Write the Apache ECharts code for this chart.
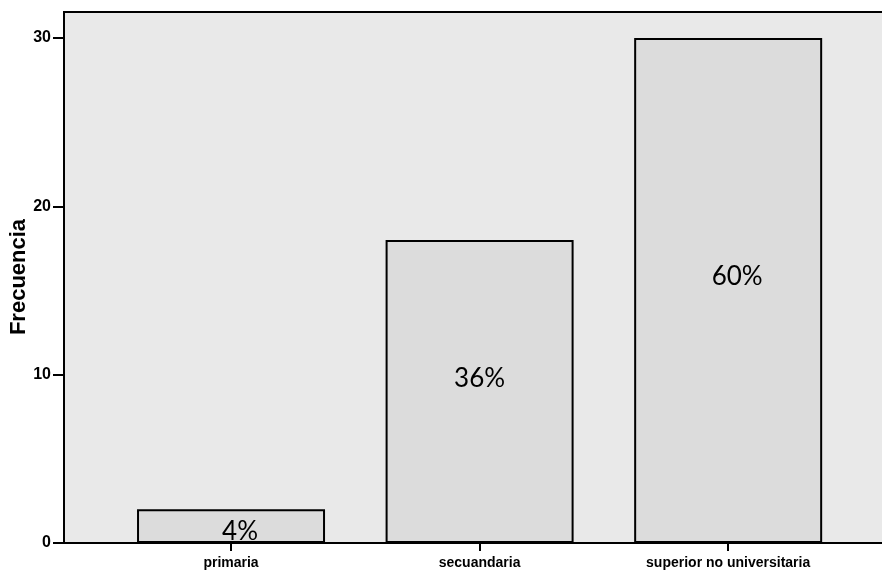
<!DOCTYPE html>
<html>
<head>
<meta charset="utf-8">
<script src="https://cdn.jsdelivr.net/npm/echarts@6/dist/echarts.min.js"></script>
<style>
  html, body { margin: 0; padding: 0; background: #ffffff; }
  #chart { width: 882px; height: 571px; }
</style>
</head>
<body>
<div id="chart"></div>
<script>
// Nivel de instrucción: frecuencias por categoría
const categories = ['primaria', 'secuandaria', 'superior no universitaria'];
const frecuencias = [2, 18, 30];
const yTicks = [0, 10, 20, 30];
const yTitle = 'Frecuencia';

const total = frecuencias.reduce((a, b) => a + b, 0);
const positions = categories.map((_, i) => i);
// hand-placed percentage labels (offset from the bar centre, in px)
const labelOffsets = [[9, 5], [0, -13], [9, -14]];

const chart = echarts.init(document.getElementById('chart'));

chart.setOption({
  animation: false,
  backgroundColor: '#ffffff',
  grid: {
    left: 64, right: -4, top: 12, bottom: 28,
    containLabel: false,
    outerBoundsMode: 'none',
    show: true,
    backgroundColor: '#e9e9e9',
    borderColor: '#000000',
    borderWidth: 2
  },
  // vertical axis title, centred on the plot height
  graphic: [{
    type: 'text',
    x: 19,
    y: 277,
    rotation: Math.PI / 2,
    style: {
      text: yTitle,
      fill: '#000',
      font: 'bold 22px "Liberation Sans"',
      align: 'center',
      verticalAlign: 'middle'
    }
  }],
  xAxis: {
    type: 'value',
    min: -0.672,
    max: 2.635,
    splitLine: { show: false },
    axisLine: { show: true, onZero: false, lineStyle: { color: '#000', width: 2 } },
    axisTick: {
      show: true, customValues: positions, length: 8,
      lineStyle: { color: '#000', width: 2 }
    },
    axisLabel: {
      customValues: positions,
      formatter: v => categories[Math.round(v)],
      color: '#000', fontFamily: 'Liberation Sans', fontWeight: 'bold',
      fontSize: 14, margin: 13
    }
  },
  yAxis: {
    type: 'value',
    min: 0,
    max: 31.55,
    interval: 10,
    splitLine: { show: false },
    axisLine: { show: true, onZero: false, lineStyle: { color: '#000', width: 2 } },
    axisTick: {
      show: true, customValues: yTicks, length: 11,
      lineStyle: { color: '#000', width: 2 }
    },
    axisLabel: {
      customValues: yTicks,
      color: '#000', fontFamily: 'Liberation Sans', fontWeight: 'bold',
      fontSize: 16, margin: 13
    }
  },
  series: [{
    type: 'bar',
    barWidth: 188,
    data: frecuencias.map((v, i) => ({
      value: [positions[i], v],
      label: { offset: labelOffsets[i] }
    })),
    itemStyle: { color: '#dcdcdc', borderColor: '#000', borderWidth: 2 },
    label: {
      show: true,
      position: 'inside',
      formatter: p => Math.round(p.value[1] / total * 100) + '%',
      color: '#000',
      fontFamily: 'Lato',
      fontSize: 26
    }
  }]
});
</script>
</body>
</html>
